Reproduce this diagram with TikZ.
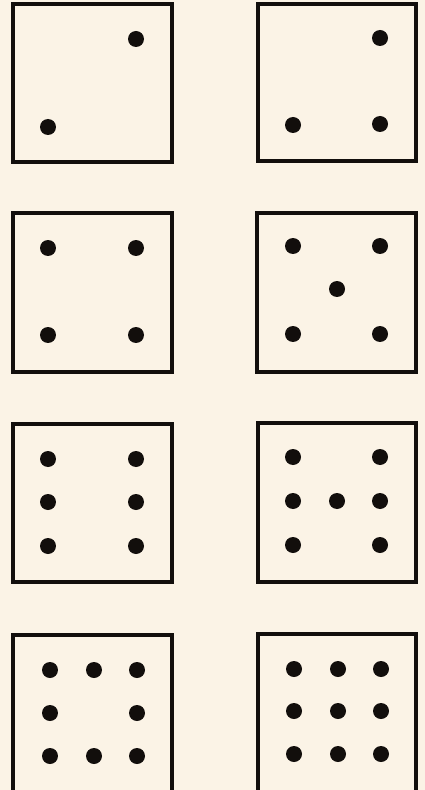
\documentclass[tikz,border=0pt]{standalone}
\definecolor{paper}{RGB}{251,243,230}
\definecolor{ink}{RGB}{18,14,12}
\begin{document}
\begin{tikzpicture}[x=0.02cm,y=-0.02cm,
  face/.style={draw=ink,line width=2.1pt},
  pip/.style={circle,fill=ink,inner sep=0pt,minimum size=0.32cm}]
\fill[paper] (0,0) rectangle (425,790);
\useasboundingbox (0,0) rectangle (425,790);
\clip (0,0) rectangle (425,790);
% die faces
\draw[face] (13,4) rectangle (172,162);
\draw[face] (258,4) rectangle (416,161);
\draw[face] (13,213) rectangle (172,372);
\draw[face] (257,213) rectangle (416,372);
\draw[face] (13,424) rectangle (172,582);
\draw[face] (258,423) rectangle (416,582);
\draw[face] (13,635) rectangle (172,800);
\draw[face] (258,634) rectangle (416,800);
% die 1: two
\node[pip] (a1) at (136,39) {};
\node[pip] (a2) at (48,127) {};
% die 2: three
\node[pip] (b1) at (380,38) {};
\node[pip] (b2) at (293,125) {};
\node[pip] (b3) at (380,124) {};
% die 3: four
\node[pip] (c1) at (48,248) {};
\node[pip] (c2) at (136,248) {};
\node[pip] (c3) at (48,335) {};
\node[pip] (c4) at (136,335) {};
% die 4: five
\node[pip] (d1) at (293,246) {};
\node[pip] (d2) at (380,246) {};
\node[pip] (d3) at (337,289) {};
\node[pip] (d4) at (293,334) {};
\node[pip] (d5) at (380,334) {};
% die 5: six
\node[pip] (e1) at (48,459) {};
\node[pip] (e2) at (136,459) {};
\node[pip] (e3) at (48,502) {};
\node[pip] (e4) at (136,502) {};
\node[pip] (e5) at (48,546) {};
\node[pip] (e6) at (136,546) {};
% die 6: seven
\node[pip] (f1) at (293,457) {};
\node[pip] (f2) at (380,457) {};
\node[pip] (f3) at (293,501) {};
\node[pip] (f4) at (337,501) {};
\node[pip] (f5) at (380,501) {};
\node[pip] (f6) at (293,545) {};
\node[pip] (f7) at (380,545) {};
% die 7: eight
\node[pip] (g1) at (50,670) {};
\node[pip] (g2) at (94,670) {};
\node[pip] (g3) at (137,670) {};
\node[pip] (g4) at (50,713) {};
\node[pip] (g5) at (137,713) {};
\node[pip] (g6) at (50,756) {};
\node[pip] (g7) at (94,756) {};
\node[pip] (g8) at (137,756) {};
% die 8: nine
\node[pip] (h1) at (294,669) {};
\node[pip] (h2) at (338,669) {};
\node[pip] (h3) at (381,669) {};
\node[pip] (h4) at (294,711) {};
\node[pip] (h5) at (338,711) {};
\node[pip] (h6) at (381,711) {};
\node[pip] (h7) at (294,754) {};
\node[pip] (h8) at (338,754) {};
\node[pip] (h9) at (381,754) {};
\end{tikzpicture}
\end{document}
